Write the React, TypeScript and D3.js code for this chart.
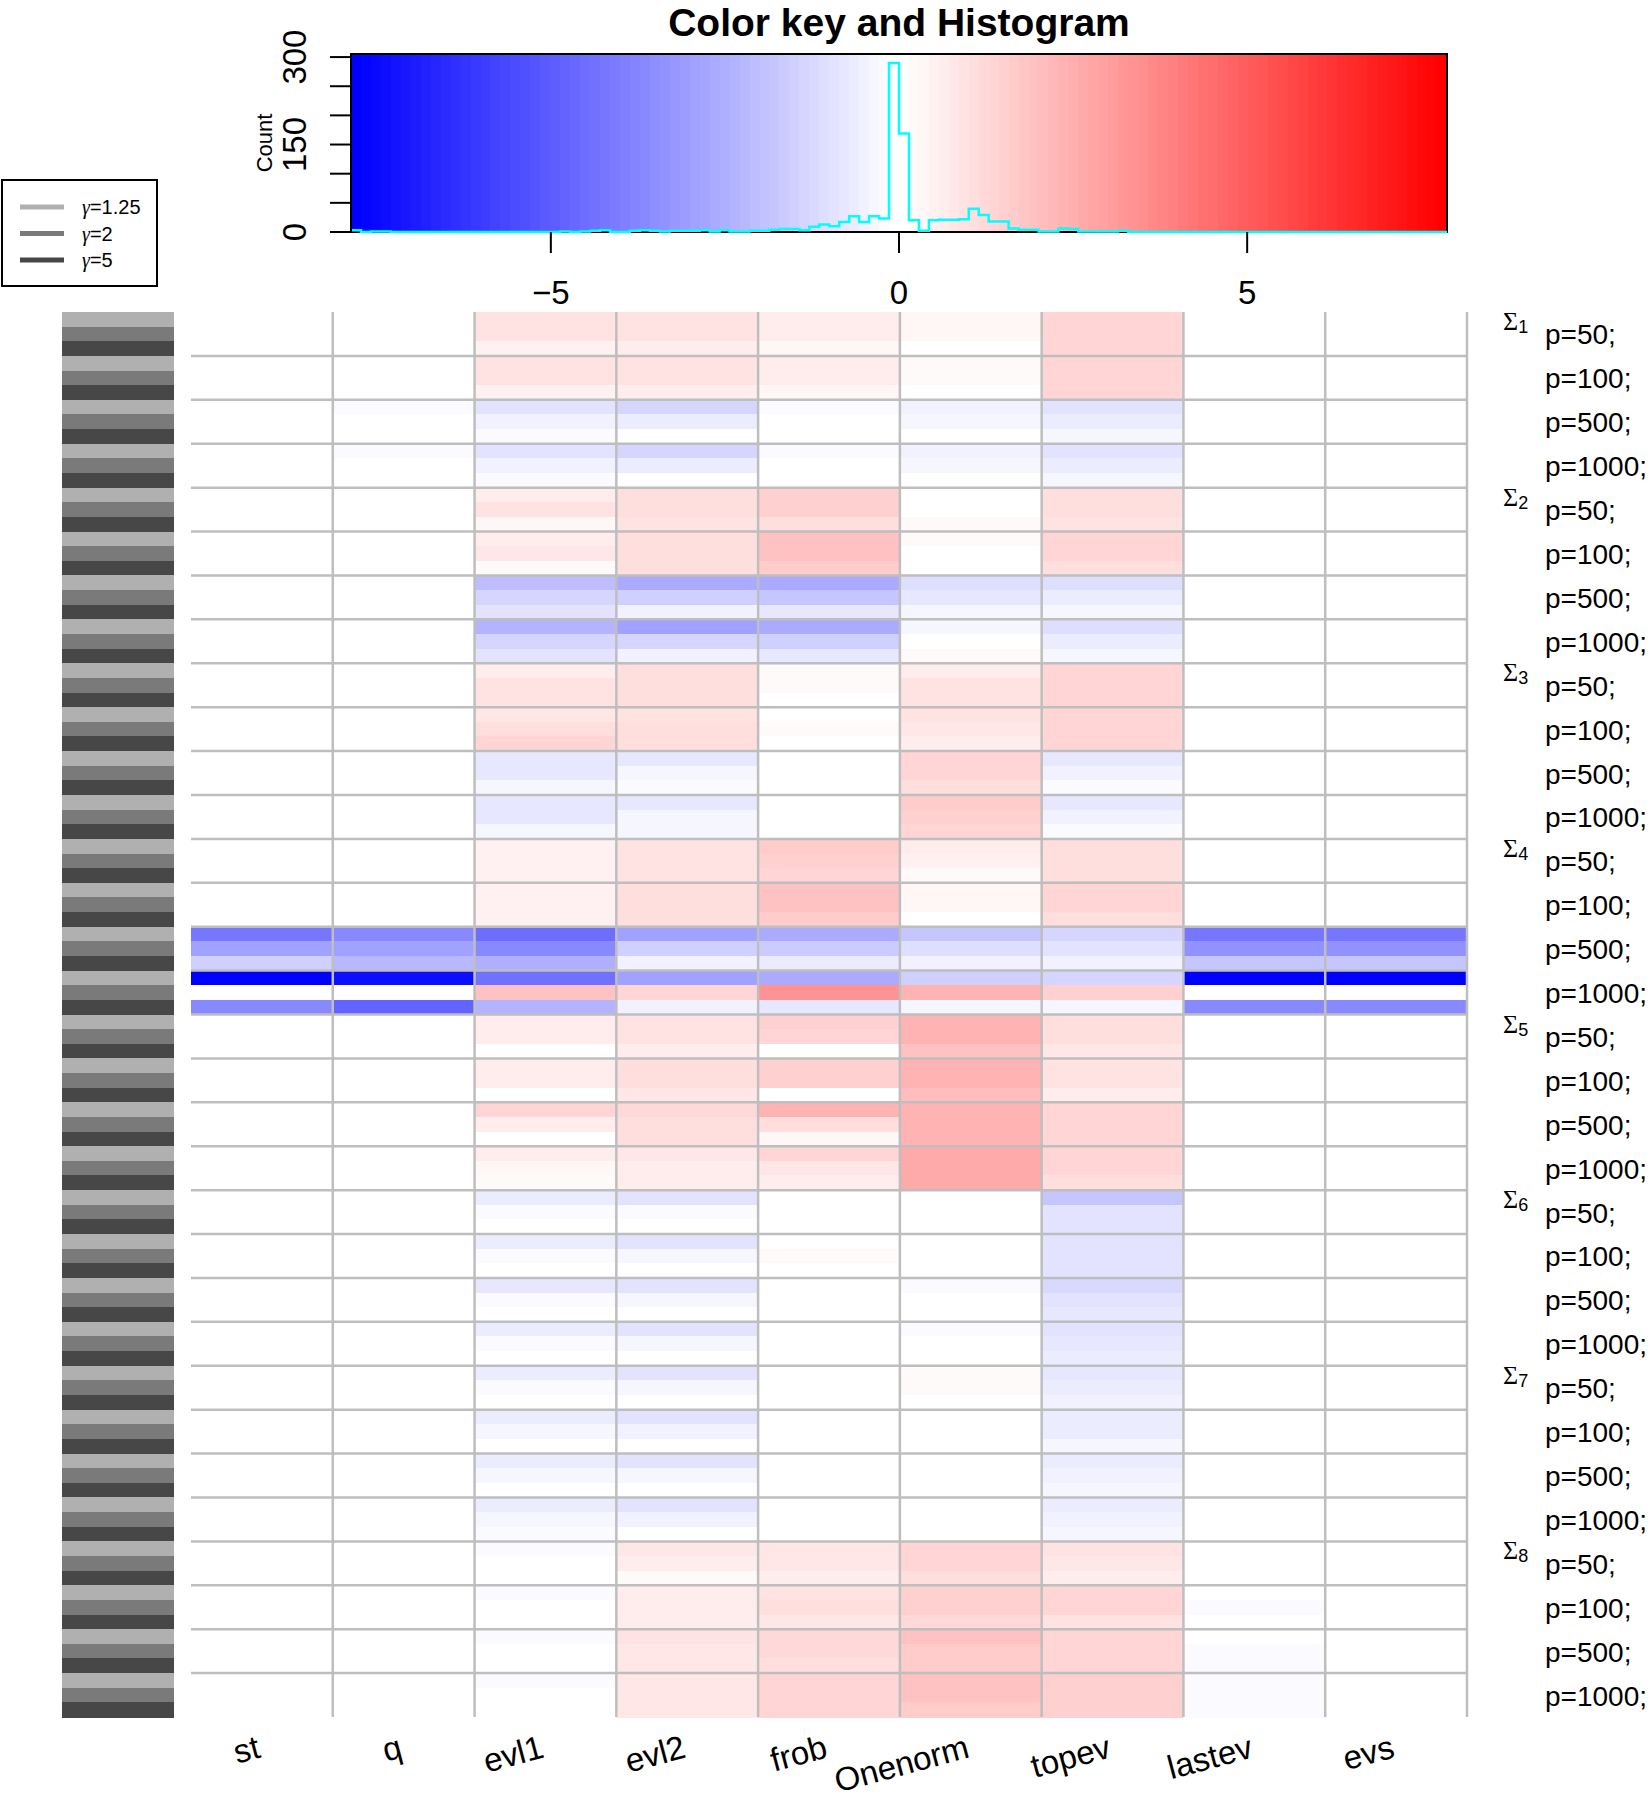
import * as d3 from "d3";

// colour key range and number of colour / histogram bins
const M = 7.87;
const nBins = 110;

const colNames = ["st", "q", "evl1", "evl2", "frob", "Onenorm", "topev", "lastev", "evs"];
const sigmaNames = ["1", "2", "3", "4", "5", "6", "7", "8"];
const pNames = ["p=50;", "p=100;", "p=500;", "p=1000;"];
const gammaNames = ["1.25", "2", "5"];
const gammaColors = ["#b0b0b0", "#7a7a7a", "#474747"];

// one line per Sigma: p=50, p=100, p=500, p=1000, three gamma rows each
const st = [
  0, 0, 0, 0, 0, 0, 0, 0, 0, 0, 0, 0,
  0, 0, 0, 0, 0, 0, 0, 0, 0, 0, 0, 0,
  0, 0, 0, 0, 0, 0, 0, 0, 0, 0, 0, 0,
  0, 0, 0, 0, 0, 0, -4.2, -2.9, -1.5, -7.87, 0, -3.7,
  0, 0, 0, 0, 0, 0, 0, 0, 0, 0, 0, 0,
  0, 0, 0, 0, 0, 0, 0, 0, 0, 0, 0, 0,
  0, 0, 0, 0, 0, 0, 0, 0, 0, 0, 0, 0,
  0, 0, 0, 0, 0, 0, 0, 0, 0, 0, 0, 0,
];
const q = [
  0, 0, 0, 0, 0, 0, -0.25, 0, 0, -0.25, 0, 0,
  0, 0, 0, 0, 0, 0, 0, 0, 0, 0, 0, 0,
  0, 0, 0, 0, 0, 0, 0, 0, 0, 0, 0, 0,
  0, 0, 0, 0, 0, 0, -3.6, -3.0, -2.2, -7.4, 0, -4.8,
  0, 0, 0, 0, 0, 0, 0, 0, 0, 0, 0, 0,
  0, 0, 0, 0, 0, 0, 0, 0, 0, 0, 0, 0,
  0, 0, 0, 0, 0, 0, 0, 0, 0, 0, 0, 0,
  0, 0, 0, 0, 0, 0, 0, 0, 0, 0, 0, 0,
];
const evl1 = [
  1.0, 0.9, 0.5, 1.0, 0.9, 0.5, -1.0, -0.5, -0.2, -1.0, -0.5, -0.2,
  0.6, 0.9, 0.3, 0.6, 0.8, 0.2, -2.1, -1.3, -0.9, -2.4, -1.4, -1.0,
  0.7, 1.0, 1.0, 0.8, 1.1, 1.3, -0.8, -0.8, -0.3, -0.8, -0.8, -0.3,
  0.5, 0.5, 0.5, 0.5, 0.5, 0.5, -4.5, -3.6, -2.5, -4.4, 1.9, -2.3,
  0.6, 0.6, 0, 0.7, 0.7, 0, 1.3, 0.7, 0, 0.6, 0.3, 0.2,
  -0.6, -0.2, 0, -0.6, -0.2, 0, -0.8, -0.2, 0, -0.7, -0.2, 0,
  -0.7, -0.2, 0, -0.7, -0.3, 0, -0.7, -0.3, 0, -0.7, -0.3, -0.2,
  -0.2, 0, 0, -0.2, 0, 0, -0.2, 0, 0, -0.2, 0, 0,
];
const evl2 = [
  1.0, 1.0, 0.6, 1.0, 1.0, 0.7, -1.3, -0.6, 0, -1.3, -0.6, 0,
  1.1, 1.1, 1.0, 1.1, 1.1, 1.1, -2.6, -1.5, -0.5, -2.9, -1.3, -0.5,
  1.1, 1.1, 1.1, 1.0, 1.1, 1.1, -0.8, -0.3, -0.2, -0.8, -0.3, -0.3,
  1.0, 1.0, 1.0, 1.1, 1.1, 1.1, -2.9, -1.5, -0.5, -2.9, 1.4, -0.5,
  1.0, 1.0, 0.7, 1.1, 1.1, 0.8, 1.2, 1.1, 1.1, 0.8, 0.7, 0.6,
  -0.9, -0.2, 0, -0.9, -0.3, 0, -1.0, -0.3, 0, -1.0, -0.3, 0,
  -0.9, -0.3, 0, -0.9, -0.5, 0, -1.0, -0.4, 0, -1.0, -0.5, 0,
  0.8, 0.6, 0.2, 0.6, 0.6, 0.6, 1.0, 0.8, 0.8, 0.8, 0.8, 0.8,
];
const frob = [
  0.6, 0.6, 0.3, 0.6, 0.6, 0.3, -0.2, 0, 0, -0.2, 0, 0,
  1.5, 1.5, 1.1, 1.9, 1.9, 1.6, -2.6, -1.8, -0.8, -2.6, -1.5, -0.8,
  0.15, 0.15, 0, 0, 0.15, 0, 0, 0, 0, 0, 0, 0,
  1.7, 1.5, 1.3, 1.9, 1.9, 1.6, -2.6, -1.7, -0.7, -2.6, 3.4, -0.8,
  1.5, 1.3, 0, 1.5, 1.5, 0, 2.3, 1.1, 0.3, 1.3, 0.8, 0.6,
  0, 0, 0, 0, 0.15, 0, 0, 0, 0, 0, 0, 0,
  0, 0, 0, 0, 0, 0, 0, 0, 0, 0, 0, 0,
  0.8, 0.8, 0.7, 1.0, 1.1, 0.8, 1.2, 1.2, 1.1, 1.3, 1.3, 1.3,
];
const onenorm = [
  0.3, 0.3, 0, 0.2, 0.2, 0, -0.5, -0.3, 0, -0.5, -0.3, 0,
  0, 0, 0.15, 0.15, 0, 0, -1.1, -0.8, -0.4, -0.3, 0, 0.15,
  0.7, 0.9, 0.9, 1.0, 0.8, 0.6, 1.4, 1.4, 1.1, 1.7, 1.5, 1.3,
  0.6, 0.5, 0.15, 0.3, 0.3, 0, -1.8, -1.1, -0.5, -1.5, 2.4, -0.4,
  2.3, 2.3, 1.9, 2.3, 2.3, 2.1, 2.4, 2.4, 2.3, 2.6, 2.6, 2.6,
  0, 0, 0, 0, 0, 0, -0.2, 0, 0, -0.15, 0, 0,
  0.15, 0.15, 0, 0, 0, 0, 0, 0, 0, 0, 0, 0,
  1.4, 1.4, 1.1, 1.5, 1.5, 1.2, 1.9, 1.6, 1.6, 1.9, 1.9, 1.6,
];
const topev = [
  1.3, 1.3, 1.3, 1.4, 1.4, 1.4, -0.9, -0.7, -0.4, -0.9, -0.7, -0.4,
  1.1, 1.1, 1.0, 1.3, 1.3, 1.1, -1.1, -0.7, -0.4, -1.1, -0.6, -0.3,
  1.4, 1.4, 1.4, 1.4, 1.4, 1.4, -0.8, -0.5, -0.2, -0.8, -0.5, -0.2,
  1.1, 1.1, 1.1, 1.3, 1.3, 1.1, -1.3, -0.9, -0.5, -1.3, 1.5, -0.4,
  1.1, 1.1, 0.8, 1.0, 1.0, 0.7, 1.4, 1.3, 1.3, 1.3, 1.3, 1.1,
  -1.8, -1.0, -1.0, -1.0, -1.0, -1.0, -1.2, -1.0, -0.8, -1.0, -0.8, -0.6,
  -0.8, -0.7, -0.5, -0.7, -0.7, -0.3, -0.7, -0.5, -0.3, -0.7, -0.5, -0.3,
  1.0, 0.8, 0.6, 1.3, 1.3, 1.0, 1.4, 1.3, 1.3, 1.5, 1.5, 1.5,
];
const lastev = [
  0, 0, 0, 0, 0, 0, 0, 0, 0, 0, 0, 0,
  0, 0, 0, 0, 0, 0, 0, 0, 0, 0, 0, 0,
  0, 0, 0, 0, 0, 0, 0, 0, 0, 0, 0, 0,
  0, 0, 0, 0, 0, 0, -4.2, -3.3, -1.8, -7.87, 0, -3.7,
  0, 0, 0, 0, 0, 0, 0, 0, 0, 0, 0, 0,
  0, 0, 0, 0, 0, 0, 0, 0, 0, 0, 0, 0,
  0, 0, 0, 0, 0, 0, 0, 0, 0, 0, 0, 0,
  0, 0, 0, 0, -0.2, 0, 0, -0.15, -0.15, -0.15, -0.15, -0.15,
];
const evs = [
  0, 0, 0, 0, 0, 0, 0, 0, 0, 0, 0, 0,
  0, 0, 0, 0, 0, 0, 0, 0, 0, 0, 0, 0,
  0, 0, 0, 0, 0, 0, 0, 0, 0, 0, 0, 0,
  0, 0, 0, 0, 0, 0, -4.2, -3.3, -1.8, -7.87, 0, -3.7,
  0, 0, 0, 0, 0, 0, 0, 0, 0, 0, 0, 0,
  0, 0, 0, 0, 0, 0, 0, 0, 0, 0, 0, 0,
  0, 0, 0, 0, 0, 0, 0, 0, 0, 0, 0, 0,
  0, 0, 0, 0, 0, 0, 0, 0, 0, 0, 0, 0,
];

// histogram counts per colour bin, left to right
const histCounts = [
  3, 0, 1, 1, 0, 0, 0, 0, 0, 0,
  0, 0, 0, 0, 0, 0, 0, 0, 0, 0,
  0, 1, 0, 1, 2, 3, 0, 0, 2, 3,
  2, 1, 2, 2, 2, 3, 1, 3, 1, 1,
  2, 2, 4, 5, 5, 3, 9, 13, 10, 17,
  27, 17, 27, 23, 290, 169, 20, 2, 20, 21,
  21, 22, 40, 29, 18, 18, 6, 4, 4, 1,
  1, 6, 5, 1, 1, 1, 1, 2, 0, 0,
  0, 0, 0, 0, 0, 0, 0, 0, 0, 0,
  0, 0, 0, 0, 0, 0, 0, 0, 0, 0,
  0, 0, 0, 0, 0, 0, 0, 0, 0, 0,
];
const countTicks = [0, 50, 100, 150, 200, 250, 300];
const countLabels = [0, 150, 300];
const keyTicks = [-5, 0, 5];

const font = "'Liberation Sans', Arial, Helvetica, sans-serif";
const serif = "'Liberation Serif', 'DejaVu Serif', serif";

export default function App() {
  const width = 1650;
  const height = 1800;
  const columns = [st, q, evl1, evl2, frob, onenorm, topev, lastev, evs];
  const nRows = st.length;

  // bluered palette, like gplots colorpanel(n, "blue", "white", "red")
  const lower = nBins / 2;
  const palette = d3.range(nBins).map((i) =>
    i < lower
      ? d3.interpolateRgb("blue", "white")(i / (lower - 1))
      : d3.interpolateRgb("white", "red")((i - lower) / (nBins - lower - 1))
  );
  const binW = (2 * M) / nBins;
  const breaks = d3.range(nBins + 1).map((i) => -M + i * binW);
  const binOf = (v: number) =>
    Math.min(nBins - 1, Math.max(0, Math.ceil((v + M) / binW - 1e-6) - 1));

  // colour key
  const kx = d3.scaleLinear().domain([-M, M]).range([351, 1447]);
  const maxC = d3.max(histCounts) as number;
  const ky = d3.scaleLinear().domain([0, maxC / 0.95]).range([232, 54]);
  const histPts: [number, number][] = breaks.map((b, i) => [
    kx(b),
    ky(histCounts[Math.min(i, nBins - 1)]),
  ]);
  const histPath = d3.line().curve(d3.curveStepAfter)(histPts) || "";

  // heatmap
  const hx = d3.scaleBand<string>().domain(colNames).range([191, 1467]);
  const hy = d3.scaleBand<number>().domain(d3.range(nRows)).range([312, 1717]);
  const bw = hx.bandwidth();
  const bh = hy.bandwidth();
  const blocks = d3.range(nRows / 3);

  return (
    <svg
      width={width}
      height={height}
      style={{ position: "absolute", left: 0, top: 0, display: "block", background: "white" }}
      fontFamily={font}
    >
      {/* title */}
      <text x={899} y={36} textAnchor="middle" fontSize={39} fontWeight="bold">
        Color key and Histogram
      </text>

      {/* colour key */}
      <g shapeRendering="crispEdges">
        {palette.map((c, i) => (
          <rect key={i} x={kx(breaks[i])} y={54} width={kx(breaks[i + 1]) - kx(breaks[i]) + 0.6} height={178} fill={c} />
        ))}
      </g>
      <rect x={351} y={54} width={1096} height={178} fill="none" stroke="black" strokeWidth={2} />
      <path d={histPath} fill="none" stroke="cyan" strokeWidth={2.5} />

      {/* key x axis */}
      {keyTicks.map((t) => (
        <g key={t}>
          <line x1={kx(t)} x2={kx(t)} y1={232} y2={253} stroke="black" strokeWidth={2} />
          <text x={kx(t)} y={304} textAnchor="middle" fontSize={33}>
            {t < 0 ? "\u2212" + Math.abs(t) : t}
          </text>
        </g>
      ))}
      {/* key y axis */}
      {countTicks.map((t) => (
        <line key={t} x1={330} x2={351} y1={ky(t)} y2={ky(t)} stroke="black" strokeWidth={2} />
      ))}
      <line x1={351} x2={351} y1={ky(0)} y2={ky(300)} stroke="black" strokeWidth={2} />
      {countLabels.map((t) => (
        <text key={t} transform={`translate(306,${ky(t)}) rotate(-90)`} textAnchor="middle" fontSize={33}>
          {t}
        </text>
      ))}
      <text transform={`translate(272,143) rotate(-90)`} textAnchor="middle" fontSize={22}>
        Count
      </text>

      {/* legend */}
      <rect x={2} y={180} width={155} height={106} fill="white" stroke="black" strokeWidth={2} />
      {gammaNames.map((g, i) => (
        <g key={g}>
          <line x1={20} x2={64} y1={207 + i * 26.5} y2={207 + i * 26.5} stroke={gammaColors[i]} strokeWidth={5} />
          <text x={82} y={214 + i * 26.5} fontSize={20}>
            <tspan fontFamily={serif} fontStyle="italic">γ</tspan>
            <tspan>={g}</tspan>
          </text>
        </g>
      ))}

      {/* side colours */}
      <g shapeRendering="crispEdges">
        {d3.range(nRows).map((r) => (
          <rect key={r} x={62} y={hy(r)} width={112} height={bh + 0.5} fill={gammaColors[r % 3]} />
        ))}
      </g>

      {/* cells */}
      <g shapeRendering="crispEdges">
        {columns.map((col, ci) =>
          col.map((v, r) => (
            <rect
              key={ci + "-" + r}
              x={hx(colNames[ci])}
              y={hy(r)}
              width={bw + 0.5}
              height={bh + 0.5}
              fill={palette[binOf(v)]}
            />
          ))
        )}
      </g>

      {/* separators */}
      <g stroke="#bebebe" strokeWidth={2.5}>
        {blocks.slice(1).map((b) => (
          <line key={"h" + b} x1={191} x2={1467} y1={hy(b * 3)} y2={hy(b * 3)} />
        ))}
        {colNames.map((c) => (
          <line key={"v" + c} x1={(hx(c) as number) + bw} x2={(hx(c) as number) + bw} y1={312} y2={1717} />
        ))}
      </g>

      {/* row labels */}
      {blocks.map((b) => {
        const top = hy(b * 3) as number;
        return (
          <g key={"rl" + b}>
            {b % 4 === 0 && (
              <text x={1503} y={top + 18}>
                <tspan fontSize={26} fontFamily={serif}>Σ</tspan>
                <tspan fontSize={18} dy={3}>{sigmaNames[b / 4]}</tspan>
              </text>
            )}
            <text x={1545} y={top + 1.5 * bh + 10.5} fontSize={28}>
              {pNames[b % 4]}
            </text>
          </g>
        );
      })}

      {/* column labels */}
      {colNames.map((c) => {
        const x = (hx(c) as number) + bw / 2;
        const y = 1757;
        return (
          <text key={"cl" + c} x={x} y={y} transform={`rotate(-15,${x},${y})`} textAnchor="end" fontSize={33}>
            {c}
          </text>
        );
      })}
    </svg>
  );
}
